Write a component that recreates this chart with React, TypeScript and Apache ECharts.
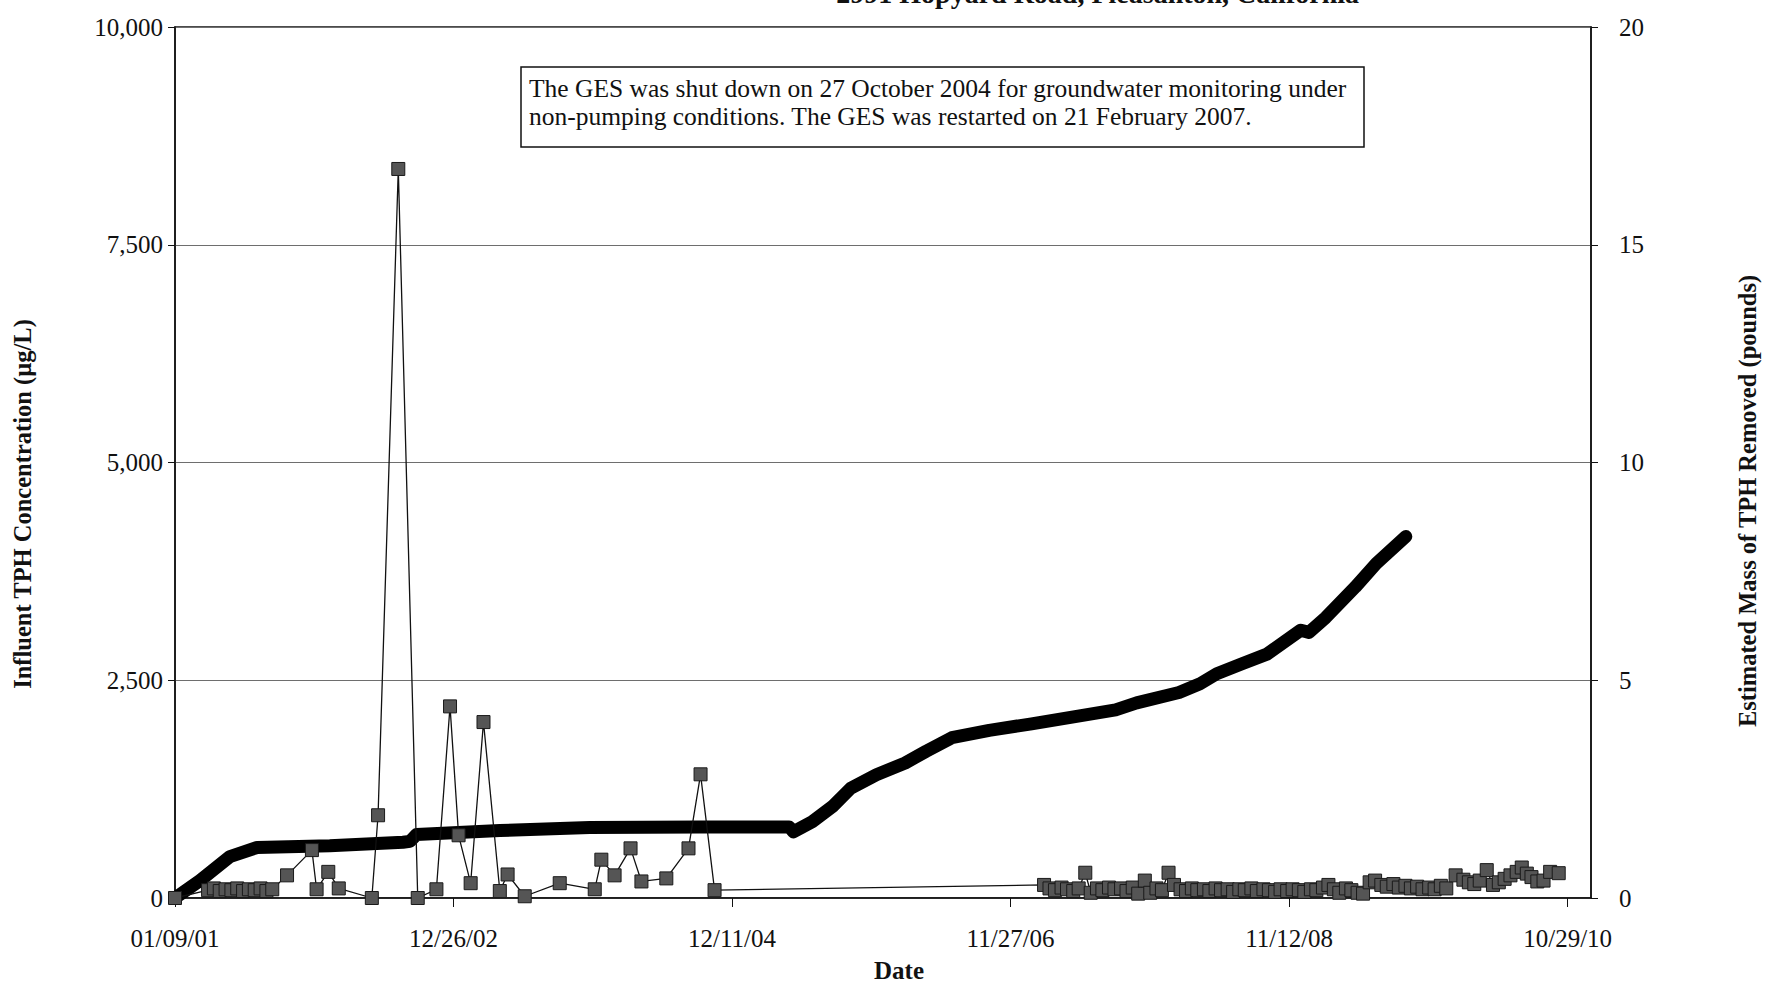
import React, { useEffect, useRef } from "react";
import * as echarts from "echarts";

// ---------- data ----------
const xTickLabels = ["01/09/01", "12/26/02", "12/11/04", "11/27/06", "11/12/08", "10/29/10"];

const concDates = [
  "2001-01-09", "2001-04-04", "2001-04-19", "2001-05-04", "2001-05-19", "2001-06-03", "2001-06-18",
  "2001-07-03", "2001-07-18", "2001-08-02", "2001-08-17", "2001-09-01", "2001-09-16", "2001-10-24",
  "2001-12-27", "2002-01-08", "2002-02-07", "2002-03-06", "2002-05-30", "2002-06-15", "2002-08-06",
  "2002-09-25", "2002-11-12", "2002-12-17", "2003-01-08", "2003-02-08", "2003-03-13", "2003-04-24",
  "2003-05-14", "2003-06-27", "2003-09-25", "2003-12-24", "2004-01-10", "2004-02-13", "2004-03-25",
  "2004-04-22", "2004-06-25", "2004-08-21", "2004-09-21", "2004-10-27",
  "2007-02-21", "2007-03-07", "2007-03-21", "2007-04-07", "2007-04-21", "2007-05-07", "2007-05-21",
  "2007-06-07", "2007-06-21", "2007-07-07", "2007-07-21", "2007-08-07", "2007-08-21", "2007-09-07",
  "2007-09-21", "2007-10-07", "2007-10-21", "2007-11-07", "2007-11-21", "2007-12-07", "2007-12-21",
  "2008-01-07", "2008-01-21", "2008-02-07", "2008-02-21", "2008-03-07", "2008-03-21", "2008-04-07",
  "2008-04-21", "2008-05-07", "2008-05-21", "2008-06-07", "2008-06-21", "2008-07-07", "2008-07-21",
  "2008-08-07", "2008-08-21", "2008-09-07", "2008-09-21", "2008-10-07", "2008-10-21", "2008-11-07",
  "2008-11-21", "2008-12-07", "2008-12-21",
  "2009-01-07", "2009-01-21", "2009-02-07", "2009-02-21", "2009-03-07", "2009-03-21", "2009-04-07",
  "2009-04-21", "2009-05-07", "2009-05-21", "2009-06-07", "2009-06-21", "2009-07-07", "2009-07-21",
  "2009-08-07", "2009-08-21", "2009-09-07", "2009-09-21", "2009-10-07", "2009-10-21", "2009-11-07",
  "2009-11-21", "2009-12-07", "2009-12-21",
  "2010-01-14", "2010-02-03", "2010-02-17", "2010-03-03", "2010-03-17", "2010-04-04", "2010-04-20",
  "2010-05-05", "2010-05-20", "2010-06-04", "2010-06-20", "2010-07-03", "2010-07-16", "2010-07-28",
  "2010-08-12", "2010-08-28", "2010-09-14", "2010-10-06",
];
const concValues = [
  0, 90, 110, 80, 100, 90, 110,
  80, 100, 90, 110, 80, 100, 260,
  550, 100, 300, 110, 0, 950, 8370,
  0, 100, 2200, 720, 170, 2020, 80,
  270, 20, 170, 100, 440, 260, 570,
  190, 225, 570, 1420, 90,
  150, 110, 90, 120, 100, 80, 110,
  290, 60, 110, 90, 120, 100, 110,
  80, 120, 50, 200, 60, 110, 90,
  290, 150, 100, 80, 110, 90, 100,
  80, 110, 90, 100, 70, 100, 90,
  110, 80, 100, 90, 70, 100, 80,
  100, 90, 70,
  100, 90, 120, 150, 100, 60, 110,
  90, 60, 50, 180, 200, 150, 130,
  160, 120, 140, 110, 130, 100, 120,
  100, 140, 110,
  260, 210, 180, 160, 200, 320, 150,
  180, 220, 260, 300, 350, 280, 240,
  190, 200, 300, 285,
];

const massDates = [
  "2001-01-09", "2001-03-14", "2001-05-30", "2001-08-08", "2002-02-11", "2002-08-18", "2002-09-05",
  "2002-09-22", "2003-04-24", "2003-12-11", "2004-09-18", "2005-05-07", "2005-05-18", "2005-07-05",
  "2005-08-26", "2005-10-12", "2005-12-17", "2006-03-01", "2006-04-24", "2006-06-29", "2006-10-03",
  "2007-01-20", "2007-05-08", "2007-08-24", "2007-10-17", "2008-02-03", "2008-03-28", "2008-05-10",
  "2008-07-14", "2008-09-16", "2008-12-12", "2009-01-02", "2009-02-14", "2009-05-01", "2009-06-24",
  "2009-09-08",
];
const massValues = [
  0, 0.4, 0.95, 1.16, 1.2, 1.28, 1.3,
  1.46, 1.55, 1.62, 1.63, 1.63, 1.52, 1.75,
  2.1, 2.52, 2.83, 3.1, 3.37, 3.68, 3.85,
  4.0, 4.16, 4.32, 4.48, 4.72, 4.92, 5.15,
  5.38, 5.6, 6.15, 6.1, 6.44, 7.14, 7.68,
  8.3,
];

const annotationLines = [
  "The GES was shut down on 27 October 2004 for groundwater monitoring under",
  "non-pumping conditions. The GES was restarted on 21 February 2007.",
];
const titleText = "2991 Hopyard Road, Pleasanton, California";
const leftTitle = "Influent TPH Concentration (µg/L)";
const rightTitle = "Estimated Mass of TPH Removed (pounds)";
const xTitle = "Date";

// ---------- helpers ----------
const DAY = 86400000;
const toMs = (s: string) => Date.parse(s + "T00:00:00Z");
const X_MIN = toMs("2001-01-09");
const X_STEP = 716 * DAY;
const X_MAX = X_MIN + 3640 * DAY;
const xTickValues = xTickLabels.map((_, i) => X_MIN + i * X_STEP);
const pad = (n: number) => (n < 10 ? "0" + n : "" + n);
const fmtDate = (v: number) => {
  const d = new Date(v);
  return pad(d.getUTCMonth() + 1) + "/" + pad(d.getUTCDate()) + "/" + pad(d.getUTCFullYear() % 100);
};

const FONT = "'Liberation Serif', 'Times New Roman', serif";
const INK = "#111";

export default function App() {
  const ref = useRef<HTMLDivElement>(null);

  useEffect(() => {
    document.body.style.margin = "0";
    if (!ref.current) return;
    const chart = echarts.init(ref.current, null, { renderer: "svg" });

    chart.setOption({
      animation: false,
      backgroundColor: "#fff",
      textStyle: { fontFamily: FONT, color: INK },
      grid: {
        left: 175,
        right: 174,
        top: 27,
        bottom: 86,
        show: true,
        borderColor: INK,
        borderWidth: 1.5,
        backgroundColor: "transparent",
      },
      xAxis: {
        type: "value",
        min: X_MIN,
        max: X_MAX,
        interval: X_STEP,
        axisLine: { show: true, lineStyle: { color: INK, width: 1.5 } },
        axisTick: {
          show: true,
          length: 9,
          customValues: xTickValues,
          lineStyle: { color: INK, width: 1 },
        },
        axisLabel: {
          customValues: xTickValues,
          formatter: (v: number) => fmtDate(v),
          fontFamily: FONT,
          fontSize: 25,
          color: INK,
          margin: 28,
        },
        splitLine: { show: false },
      },
      yAxis: [
        {
          type: "value",
          min: 0,
          max: 10000,
          interval: 2500,
          position: "left",
          axisLine: { show: true, lineStyle: { color: INK, width: 1.5 } },
          axisTick: { show: true, length: 7, lineStyle: { color: INK } },
          axisLabel: {
            fontFamily: FONT,
            fontSize: 25,
            color: INK,
            margin: 12,
            formatter: (v: number) => v.toLocaleString("en-US"),
          },
          splitLine: { show: true, lineStyle: { color: "#6e6e6e", width: 1 } },
        },
        {
          type: "value",
          min: 0,
          max: 20,
          interval: 5,
          position: "right",
          axisLine: { show: true, lineStyle: { color: INK, width: 1.5 } },
          axisTick: { show: true, length: 7, lineStyle: { color: INK } },
          axisLabel: { fontFamily: FONT, fontSize: 25, color: INK, margin: 28 },
          splitLine: { show: false },
        },
      ],
      series: [
        {
          name: "Estimated Mass of TPH Removed",
          type: "line",
          yAxisIndex: 1,
          data: massDates.map((d, i) => [toMs(d), massValues[i]]),
          showSymbol: false,
          symbol: "none",
          lineStyle: { color: "#000", width: 13, join: "round", cap: "round" },
          z: 2,
        },
        {
          name: "Influent TPH Concentration",
          type: "line",
          yAxisIndex: 0,
          data: concDates.map((d, i) => [toMs(d), concValues[i]]),
          symbol: "rect",
          symbolSize: 13,
          showAllSymbol: true,
          itemStyle: { color: "#555", borderColor: "#1a1a1a", borderWidth: 1 },
          lineStyle: { color: INK, width: 1.3 },
          z: 3,
        },
      ],
      graphic: [
        {
          type: "text",
          right: 1765 - 1359,
          top: -21,
          style: {
            text: titleText,
            font: `bold 28px ${FONT}`,
            fill: INK,
          },
        },
        {
          type: "rect",
          shape: { x: 521, y: 67, width: 843, height: 80 },
          style: { fill: "#fff", stroke: INK, lineWidth: 1.5 },
          z: 10,
        },
        {
          type: "text",
          x: 529,
          y: 88,
          z: 11,
          style: {
            text: annotationLines[0],
            font: `25.5px ${FONT}`,
            fill: INK,
            verticalAlign: "middle",
          },
        },
        {
          type: "text",
          x: 529,
          y: 116,
          z: 11,
          style: {
            text: annotationLines[1],
            font: `25.5px ${FONT}`,
            fill: INK,
            verticalAlign: "middle",
          },
        },
        {
          type: "text",
          x: 22,
          y: 504,
          rotation: Math.PI / 2,
          style: {
            text: leftTitle,
            font: `bold 24.5px ${FONT}`,
            fill: INK,
            align: "center",
            verticalAlign: "middle",
          },
        },
        {
          type: "text",
          x: 1747,
          y: 501,
          rotation: Math.PI / 2,
          style: {
            text: rightTitle,
            font: `bold 24.5px ${FONT}`,
            fill: INK,
            align: "center",
            verticalAlign: "middle",
          },
        },
        {
          type: "text",
          x: 899,
          y: 970,
          style: {
            text: xTitle,
            font: `bold 25px ${FONT}`,
            fill: INK,
            align: "center",
            verticalAlign: "middle",
          },
        },
      ],
    });

    return () => chart.dispose();
  }, []);

  return (
    <div
      ref={ref}
      style={{ position: "fixed", left: 0, top: 0, width: 1765, height: 984, background: "#fff" }}
    />
  );
}
